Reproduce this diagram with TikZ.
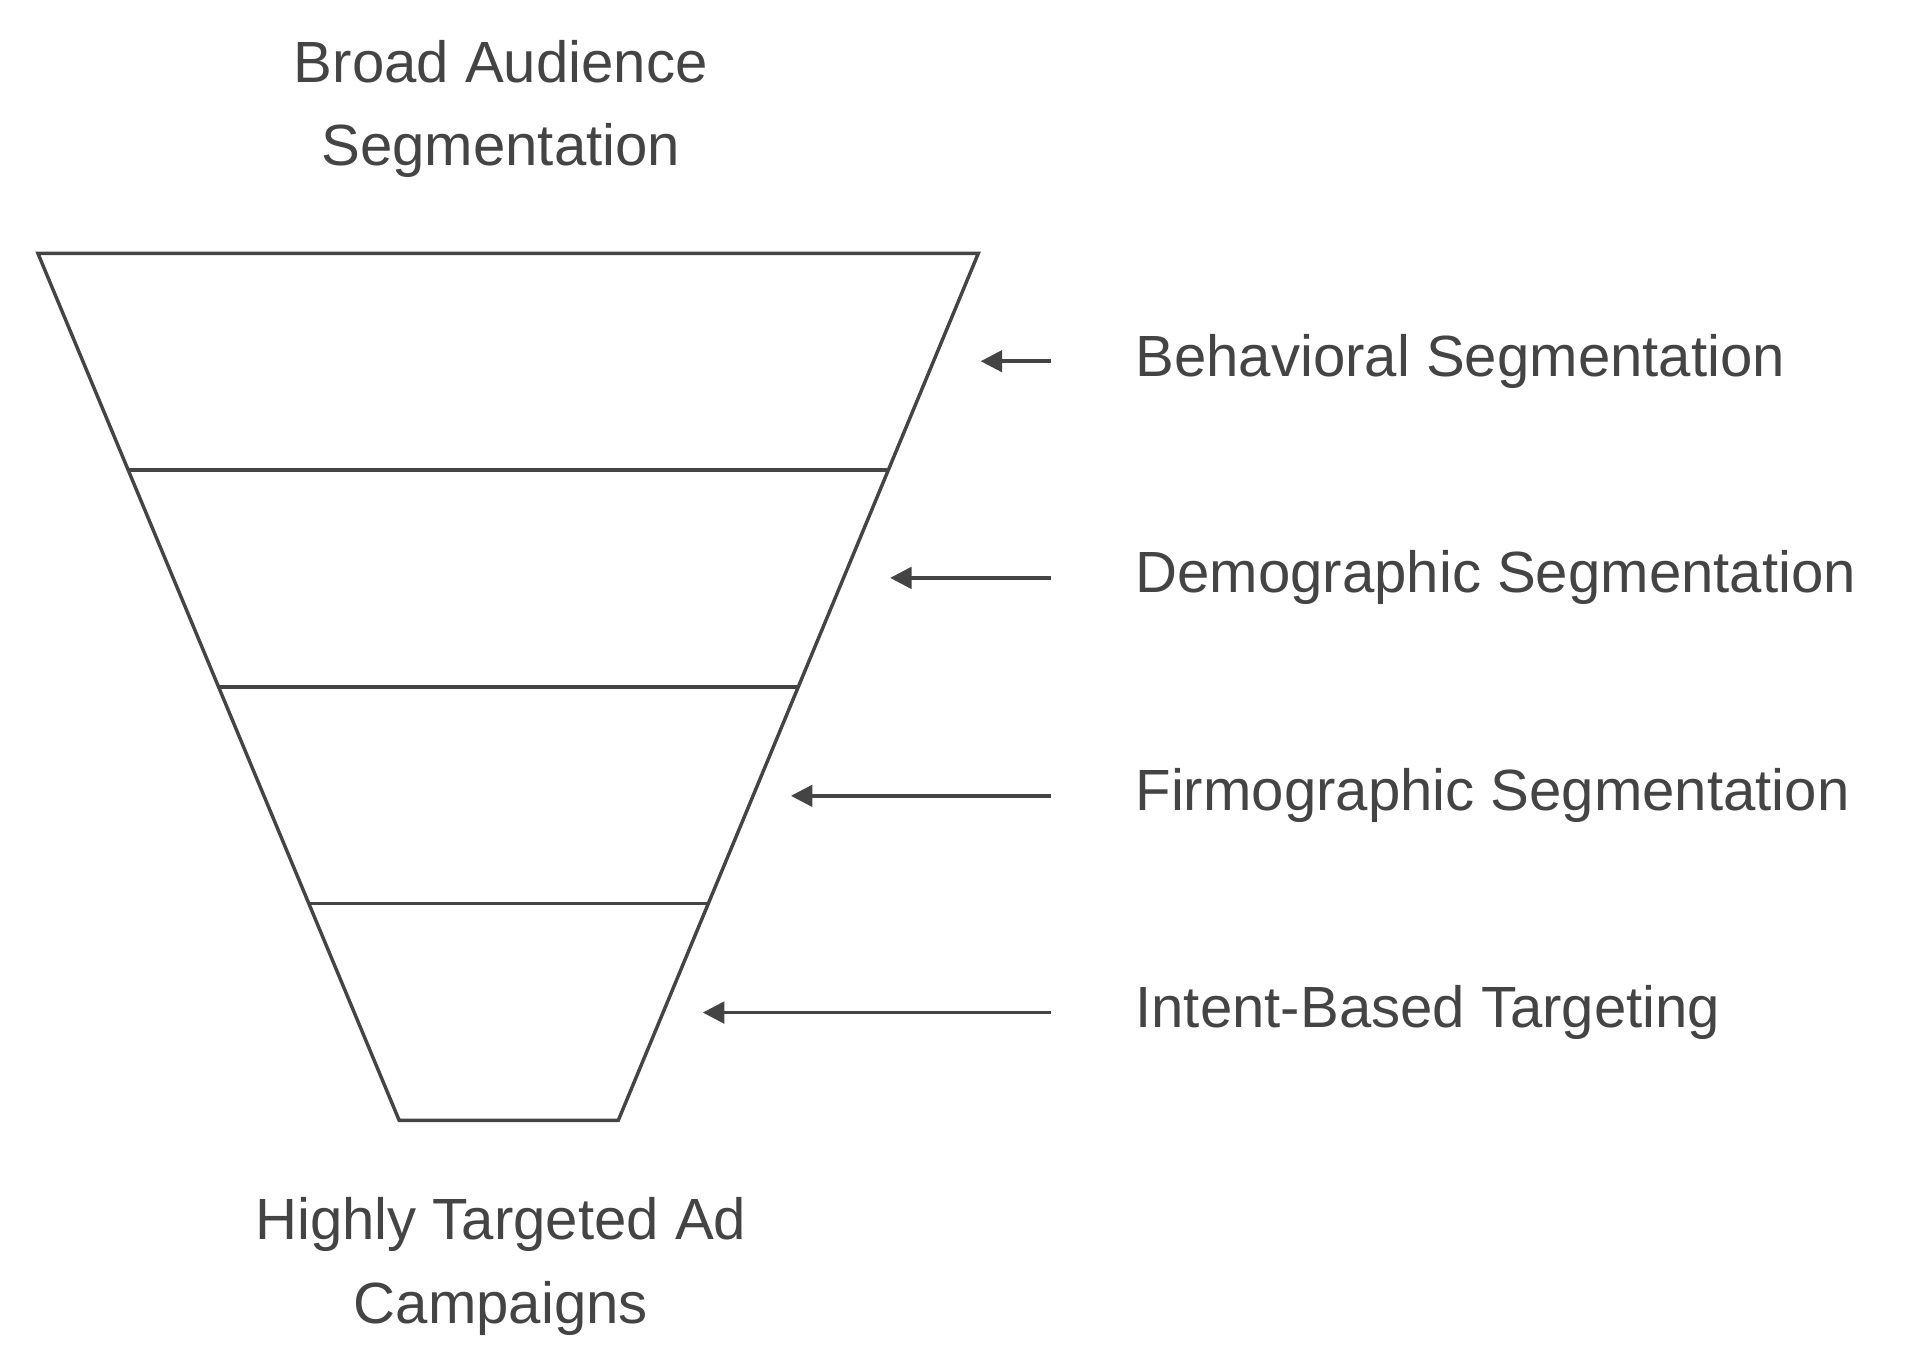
\documentclass[tikz,border=0pt]{standalone}
\usepackage{fontspec}
\setmainfont{Liberation Sans}
\usetikzlibrary{arrows.meta}
\definecolor{ink}{HTML}{444444}
\tikzset{
  funnel/.style={draw=ink, line width=0.8pt},
  pointer/.style={draw=ink, line width=0.8pt, -{Triangle[length=5pt,width=5pt]}},
  label/.style={text=ink, font=\fontsize{13.5}{19.5}\selectfont, align=center}
}
\begin{document}
\begin{tikzpicture}[x=0.01cm, y=-0.01cm]
    \useasboundingbox (0,0) rectangle (1560,1117);
    % funnel corners
    \coordinate (tl) at (31,207);
    \coordinate (tr) at (799,207);
    \coordinate (bl) at (326,915);
    \coordinate (br) at (505,915);
    \draw [funnel] (tl) -- (tr) -- (br) -- (bl) -- cycle;
    \draw [funnel] (105,384) -- (725,384);
    \draw [funnel] (179,561) -- (652,561);
    \draw [funnel] (253,738) -- (578,738);

    \node [label] (top) at (409,89) {Broad Audience\\Segmentation};
    \node [label] (bottom) at (409,1034) {Highly Targeted Ad\\Campaigns};

    \node [label, anchor=west] (behav) at (915,295) {Behavioral Segmentation};
    \node [label, anchor=west] (demo) at (915,472) {Demographic Segmentation};
    \node [label, anchor=west] (firmo) at (915,650) {Firmographic Segmentation};
    \node [label, anchor=west] (intent) at (915,827) {Intent-Based Targeting};

    \coordinate (s1) at (858,295); \coordinate (e1) at (801,295);
    \coordinate (s2) at (858,472); \coordinate (e2) at (727,472);
    \coordinate (s3) at (858,650); \coordinate (e3) at (646,650);
    \coordinate (s4) at (858,827); \coordinate (e4) at (574,827);
    \draw [pointer] (s1) -- (e1);
    \draw [pointer] (s2) -- (e2);
    \draw [pointer] (s3) -- (e3);
    \draw [pointer] (s4) -- (e4);
\end{tikzpicture}
\end{document}
